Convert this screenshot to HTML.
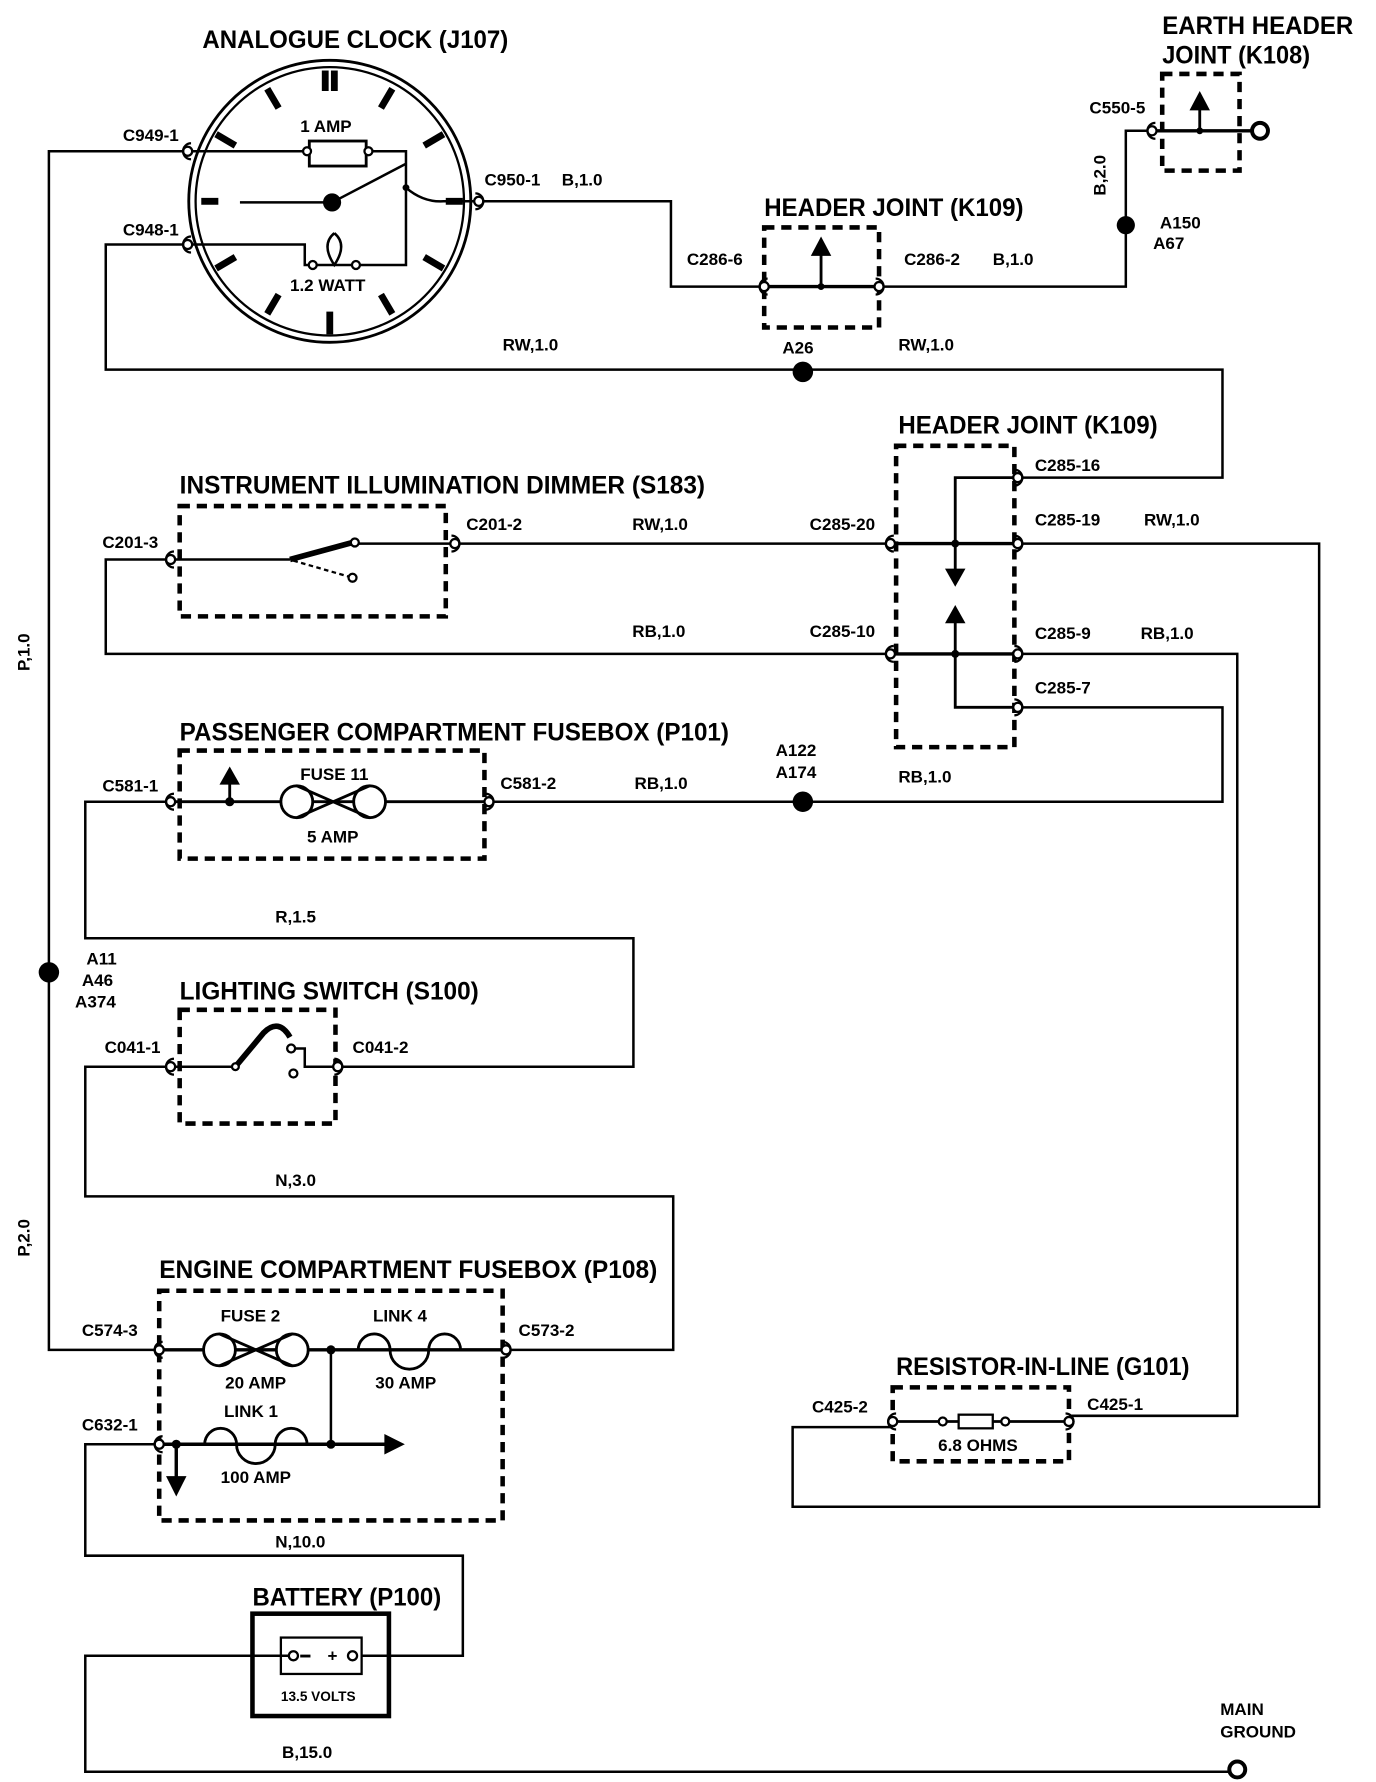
<!DOCTYPE html>
<html><head><meta charset="utf-8"><style>
html,body{margin:0;padding:0;background:#fff;}
svg{display:block}
text{font-family:"Liberation Sans Narrow","Liberation Sans",sans-serif;font-weight:bold;fill:#000;}
.t{font-size:22px}
.l{font-size:15px}
</style></head><body>
<svg width="1376" height="1782" viewBox="0 0 1210 1567" xmlns="http://www.w3.org/2000/svg">
<defs>
<g id="cl"><circle r="4" fill="#fff" stroke="#000" stroke-width="2"/><path d="M3,-7 A7,7 0 1 0 3,7" fill="none" stroke="#000" stroke-width="2"/></g>
<g id="cr"><circle r="4" fill="#fff" stroke="#000" stroke-width="2"/><path d="M-3,-7 A7,7 0 1 1 -3,7" fill="none" stroke="#000" stroke-width="2"/></g>
<g id="fuse"><circle cx="-32" r="14" fill="#fff" stroke="#000" stroke-width="2.5"/><circle cx="32" r="14" fill="#fff" stroke="#000" stroke-width="2.5"/><path d="M-32,-14 L32,14 M-32,14 L32,-14" stroke="#000" stroke-width="2.5"/></g>
<g id="link"><path d="M-45,0 A14,14 0 1 1 -17,0 A14,14 0 0 0 17,0 A14,14 0 1 1 45,0" fill="none" stroke="#000" stroke-width="2.5"/></g>
</defs>
<g fill="none" stroke="#000" stroke-width="2.2">
<polyline points="165,133 43,133 43,1187 140,1187"/>
<circle cx="290" cy="177" r="124" stroke-width="2.5"/>
<circle cx="290" cy="177" r="118" stroke-width="2"/>
<polyline points="165,133 270,133"/>
<rect x="272" y="124" width="50" height="22" stroke-width="2.5"/>
<polyline points="322,133 357,133 357,233 268,233 268,215 165,215"/>
<line x1="211" y1="178" x2="292" y2="178"/>
<line x1="292" y1="178" x2="357" y2="144"/>
<path d="M357,165 Q372,178 390,177 L421,177"/>
<path d="M294,205 Q282,215 294,233 Q306,215 294,205"/>
<polyline points="421,177 590,177 590,252 672,252"/>
<polyline points="773,252 990,252 990,115 1013,115"/>
<line x1="672" y1="252" x2="773" y2="252" stroke-width="3"/>
<line x1="722" y1="252" x2="722" y2="222" stroke-width="2.5"/>
<line x1="1013" y1="115" x2="1100" y2="115" stroke-width="3"/>
<line x1="1055" y1="115" x2="1055" y2="92" stroke-width="2.5"/>
<polyline points="165,215 93,215 93,325 1075,325 1075,420 895,420"/>
<polyline points="895,420 840,420 840,505" stroke-width="2.5"/>
<line x1="783" y1="478" x2="895" y2="478" stroke-width="3"/>
<line x1="783" y1="575" x2="895" y2="575" stroke-width="3"/>
<polyline points="840,545 840,622 895,622" stroke-width="2.5"/>
<polyline points="895,478 1160,478 1160,1325 697,1325 697,1255 785,1255"/>
<polyline points="895,575 1088,575 1088,1245 940,1245"/>
<polyline points="895,622 1075,622 1075,705 430,705"/>
<polyline points="150,492 255,492"/>
<polyline points="310,478 400,478"/>
<line x1="255" y1="492" x2="310" y2="477" stroke-width="5"/>
<line x1="258" y1="493" x2="310" y2="508" stroke-width="2" stroke-dasharray="4,3"/>
<polyline points="150,492 93,492 93,575 783,575"/>
<line x1="400" y1="478" x2="783" y2="478"/>
<line x1="150" y1="705" x2="430" y2="705" stroke-width="2.5"/>
<line x1="202" y1="705" x2="202" y2="688" stroke-width="2.5"/>
<polyline points="150,705 75,705 75,825 557,825 557,938 297,938"/>
<polyline points="150,938 207,938"/>
<path d="M207,938 L232,908 Q245,895 255,912" stroke-width="5"/>
<polyline points="256,922 268,922 268,938 297,938"/>
<polyline points="150,938 75,938 75,1052 592,1052 592,1187 445,1187"/>
<line x1="140" y1="1187" x2="445" y2="1187" stroke-width="3"/>
<line x1="140" y1="1270" x2="340" y2="1270" stroke-width="3"/>
<line x1="291" y1="1187" x2="291" y2="1270"/>
<line x1="155" y1="1270" x2="155" y2="1300" stroke-width="3"/>
<polyline points="140,1270 75,1270 75,1368 407,1368 407,1456 318,1456"/>
<rect x="222" y="1419" width="120" height="90" stroke-width="4"/>
<rect x="247" y="1440" width="71" height="32" stroke-width="2"/>
<polyline points="255,1456 75,1456 75,1558 1082,1558"/>
<line x1="785" y1="1250" x2="940" y2="1250" stroke-width="2.5"/>
<polyline points="785,1255 785,1250"/>
<g stroke-width="4" stroke-dasharray="9,6">
<rect x="672" y="200" width="101" height="88"/>
<rect x="1022" y="65" width="68" height="85"/>
<rect x="788" y="392" width="104" height="265"/>
<rect x="158" y="445" width="234" height="97"/>
<rect x="158" y="660" width="268" height="95"/>
<rect x="158" y="888" width="137" height="100"/>
<rect x="140" y="1135" width="302" height="202"/>
<rect x="785" y="1220" width="155" height="65"/>
</g>
</g>
<g stroke="#000" stroke-width="6">
<line x1="286" y1="62" x2="286" y2="80"/><line x1="294" y1="62" x2="294" y2="80"/>
<line x1="290" y1="274" x2="290" y2="294"/>
<line x1="177" y1="177" x2="192" y2="177"/>
<line x1="392" y1="177" x2="407" y2="177"/>
<line x1="235" y1="78" x2="245" y2="95"/><line x1="345" y1="78" x2="335" y2="95"/>
<line x1="190" y1="118" x2="207" y2="128"/><line x1="390" y1="118" x2="373" y2="128"/>
<line x1="190" y1="236" x2="207" y2="226"/><line x1="390" y1="236" x2="373" y2="226"/>
<line x1="235" y1="276" x2="245" y2="259"/><line x1="345" y1="276" x2="335" y2="259"/>
</g>
<g fill="#000">
<circle cx="292" cy="178" r="8"/>
<circle cx="357" cy="165" r="3"/>
<circle cx="990" cy="198" r="8"/>
<circle cx="706" cy="327" r="9"/>
<circle cx="706" cy="705" r="9"/>
<circle cx="43" cy="855" r="9"/>
<circle cx="722" cy="252" r="3"/><circle cx="1055" cy="115" r="3"/>
<circle cx="840" cy="478" r="3.5"/><circle cx="840" cy="575" r="3.5"/>
<circle cx="202" cy="705" r="4"/><circle cx="291" cy="1187" r="4"/><circle cx="291" cy="1270" r="4"/><circle cx="155" cy="1270" r="4"/>
<polygon points="722,208 713,225 731,225"/>
<polygon points="1055,80 1046,97 1064,97"/>
<polygon points="840,516 831,500 849,500"/>
<polygon points="840,532 831,548 849,548"/>
<polygon points="202,674 193,690 211,690"/>
<polygon points="155,1316 146,1298 164,1298"/>
<polygon points="356,1270 338,1261 338,1279"/>
<rect x="264" y="1455" width="9" height="2.5"/>
</g>
<g fill="#fff" stroke="#000" stroke-width="2">
<circle cx="270" cy="133" r="3.5"/><circle cx="324" cy="133" r="3.5"/>
<circle cx="275" cy="233" r="3.5"/><circle cx="313" cy="233" r="3.5"/>
<circle cx="312" cy="477" r="3.5"/><circle cx="310" cy="508" r="3.5"/>
<circle cx="207" cy="938" r="3"/><circle cx="256" cy="922" r="3.5"/><circle cx="258" cy="944" r="3.5"/>
<circle cx="1108" cy="115" r="7" stroke-width="3.5"/>
<circle cx="1088" cy="1556" r="7" stroke-width="3.5"/>
<circle cx="258" cy="1456" r="4"/><circle cx="310" cy="1456" r="4"/>
<circle cx="829" cy="1250" r="3.5"/><circle cx="884" cy="1250" r="3.5"/>
<rect x="843" y="1244" width="30" height="12"/>
</g>
<use href="#fuse" x="293" y="705"/>
<use href="#fuse" x="225" y="1187"/>
<use href="#link" x="360" y="1187"/>
<use href="#link" x="225" y="1270"/>
<use href="#cl" x="165" y="133"/><use href="#cl" x="165" y="215"/>
<use href="#cr" x="421" y="177"/>
<use href="#cl" x="672" y="252"/><use href="#cr" x="773" y="252"/>
<use href="#cl" x="1013" y="115"/>
<use href="#cr" x="895" y="420"/><use href="#cr" x="895" y="478"/><use href="#cr" x="895" y="575"/><use href="#cr" x="895" y="622"/>
<use href="#cl" x="783" y="478"/><use href="#cl" x="783" y="575"/>
<use href="#cl" x="150" y="492"/><use href="#cr" x="400" y="478"/>
<use href="#cl" x="150" y="705"/><use href="#cr" x="430" y="705"/>
<use href="#cl" x="150" y="938"/><use href="#cr" x="297" y="938"/>
<use href="#cl" x="140" y="1187"/><use href="#cr" x="445" y="1187"/>
<use href="#cl" x="140" y="1270"/>
<use href="#cl" x="785" y="1250"/><use href="#cr" x="940" y="1250"/>
<text class="t" x="178" y="42" textLength="269" lengthAdjust="spacingAndGlyphs">ANALOGUE CLOCK (J107)</text>
<text class="t" x="1022" y="30" textLength="168" lengthAdjust="spacingAndGlyphs">EARTH HEADER</text>
<text class="t" x="1022" y="56" textLength="130" lengthAdjust="spacingAndGlyphs">JOINT (K108)</text>
<text class="t" x="672" y="190" textLength="228" lengthAdjust="spacingAndGlyphs">HEADER JOINT (K109)</text>
<text class="t" x="790" y="381" textLength="228" lengthAdjust="spacingAndGlyphs">HEADER JOINT (K109)</text>
<text class="t" x="158" y="434" textLength="462" lengthAdjust="spacingAndGlyphs">INSTRUMENT ILLUMINATION DIMMER (S183)</text>
<text class="t" x="158" y="651" textLength="483" lengthAdjust="spacingAndGlyphs">PASSENGER COMPARTMENT FUSEBOX (P101)</text>
<text class="t" x="158" y="879" textLength="263" lengthAdjust="spacingAndGlyphs">LIGHTING SWITCH (S100)</text>
<text class="t" x="140" y="1124" textLength="438" lengthAdjust="spacingAndGlyphs">ENGINE COMPARTMENT FUSEBOX (P108)</text>
<text class="t" x="788" y="1209" textLength="258" lengthAdjust="spacingAndGlyphs">RESISTOR-IN-LINE (G101)</text>
<text class="t" x="222" y="1412" textLength="166" lengthAdjust="spacingAndGlyphs">BATTERY (P100)</text>
<g class="l">
<text x="108" y="124">C949-1</text>
<text x="108" y="207">C948-1</text>
<text x="264" y="116">1 AMP</text>
<text x="255" y="256">1.2 WATT</text>
<text x="426" y="163">C950-1</text><text x="494" y="163">B,1.0</text>
<text x="604" y="233">C286-6</text>
<text x="795" y="233">C286-2</text><text x="873" y="233">B,1.0</text>
<text x="1020" y="201">A150</text><text x="1014" y="219">A67</text>
<text x="958" y="100">C550-5</text>
<text transform="translate(972,172) rotate(-90)">B,2.0</text>
<text x="442" y="308">RW,1.0</text><text x="688" y="311">A26</text><text x="790" y="308">RW,1.0</text>
<text x="910" y="414">C285-16</text>
<text x="910" y="462">C285-19</text><text x="1006" y="462">RW,1.0</text>
<text x="910" y="562">C285-9</text><text x="1003" y="562">RB,1.0</text>
<text x="910" y="610">C285-7</text>
<text x="712" y="466">C285-20</text>
<text x="712" y="560">C285-10</text>
<text x="90" y="482">C201-3</text>
<text x="410" y="466">C201-2</text><text x="556" y="466">RW,1.0</text>
<text x="556" y="560">RB,1.0</text>
<text x="90" y="696">C581-1</text>
<text x="264" y="686">FUSE 11</text>
<text x="270" y="741">5 AMP</text>
<text x="440" y="694">C581-2</text><text x="558" y="694">RB,1.0</text>
<text x="682" y="665">A122</text><text x="682" y="684">A174</text>
<text x="790" y="688">RB,1.0</text>
<text transform="translate(26,590) rotate(-90)">P,1.0</text>
<text transform="translate(26,1105) rotate(-90)">P,2.0</text>
<text x="242" y="811">R,1.5</text>
<text x="76" y="848">A11</text><text x="72" y="867">A46</text><text x="66" y="886">A374</text>
<text x="92" y="926">C041-1</text><text x="310" y="926">C041-2</text>
<text x="242" y="1043">N,3.0</text>
<text x="72" y="1175">C574-3</text><text x="456" y="1175">C573-2</text>
<text x="194" y="1162">FUSE 2</text><text x="328" y="1162">LINK 4</text>
<text x="198" y="1221">20 AMP</text><text x="330" y="1221">30 AMP</text>
<text x="197" y="1246">LINK 1</text><text x="194" y="1304">100 AMP</text>
<text x="72" y="1258">C632-1</text>
<text x="242" y="1361">N,10.0</text>
<text x="714" y="1242">C425-2</text><text x="956" y="1240">C425-1</text>
<text x="825" y="1276">6.8 OHMS</text>
<text x="247" y="1496" style="font-size:12px">13.5 VOLTS</text>
<text x="288" y="1461" style="font-size:15px">+</text>
<text x="248" y="1546">B,15.0</text>
<text x="1073" y="1508">MAIN</text><text x="1073" y="1528">GROUND</text>
</g>
</svg>
</body></html>
